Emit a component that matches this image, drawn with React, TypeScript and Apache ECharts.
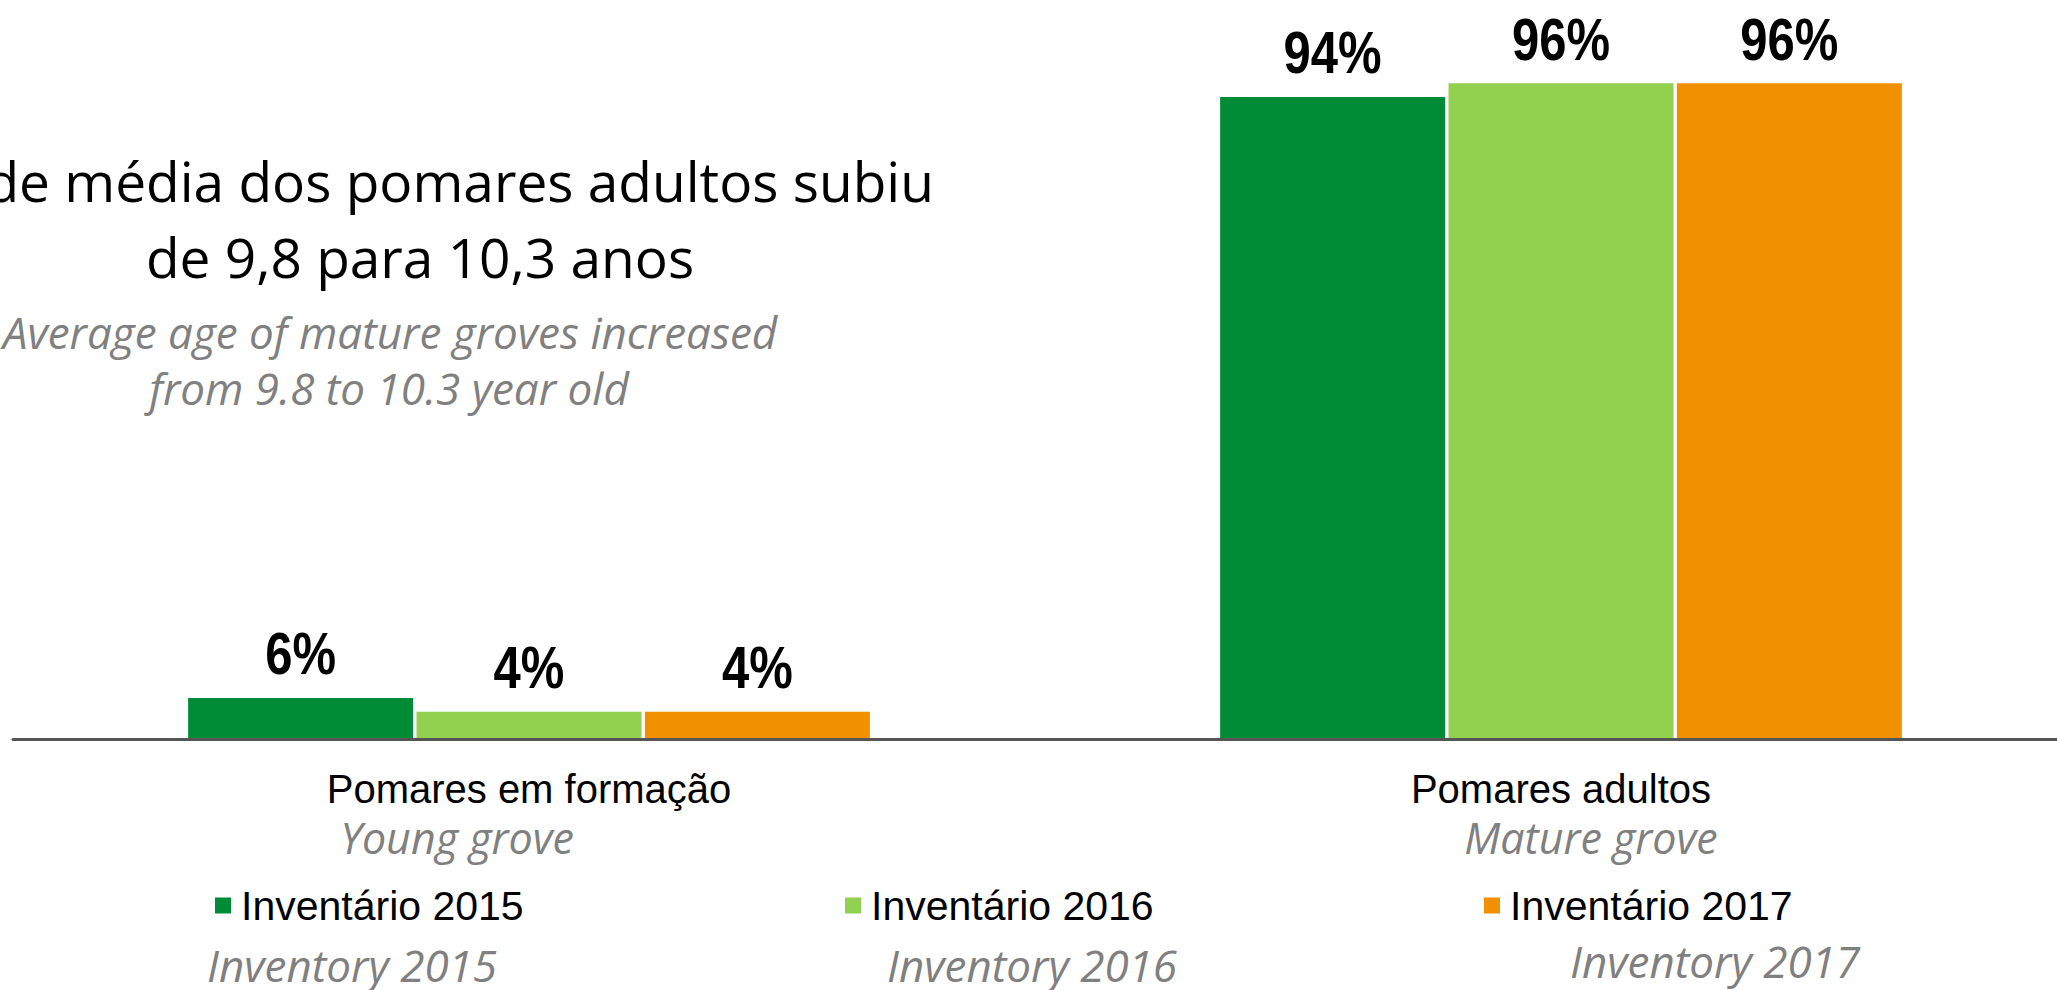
import React, { useEffect, useRef } from 'react';
import * as echarts from 'echarts';

const categories = ['Pomares em formação', 'Pomares adultos'];
const categoriesEn = ['Young grove', 'Mature grove'];
const seriesNames = ['Inventário 2015', 'Inventário 2016', 'Inventário 2017'];
const seriesNamesEn = ['Inventory 2015', 'Inventory 2016', 'Inventory 2017'];
const inv2015 = [6, 94];
const inv2016 = [4, 96];
const inv2017 = [4, 96];
const titleLines = ['de média dos pomares adultos subiu', 'de 9,8 para 10,3 anos'];
const subtitleLines = ['Average age of mature groves increased', 'from 9.8 to 10.3 year old'];

const colors = ['#008C37', '#92D050', '#F29100'];
const NARROW = '"Liberation Sans Narrow", "Arial Narrow", "Liberation Sans", Arial, sans-serif';
const CAL = '"Open Sans", "Noto Sans", sans-serif';

export default function App() {
  const ref = useRef<HTMLDivElement>(null);
  useEffect(() => {
    if (!ref.current) return;
    const chart = echarts.init(ref.current, undefined, { renderer: 'svg' });
    const values = [inv2015, inv2016, inv2017];
    const legendLefts = [210, 840, 1479];
    const enLegendPos = [[207, 965], [887, 965], [1570, 961]];
    const staticGraphics: any[] = [
      { type: 'text', x: 934, y: 180, style: { text: titleLines[0], font: `55px ${CAL}`, fill: '#000', textAlign: 'right', textVerticalAlign: 'middle' } },
      { type: 'text', x: 420, y: 256, style: { text: titleLines[1], font: `55px ${CAL}`, fill: '#000', textAlign: 'center', textVerticalAlign: 'middle' } },
      { type: 'text', x: 390, y: 332, style: { text: subtitleLines[0], font: `italic 44px ${CAL}`, fill: '#808080', textAlign: 'center', textVerticalAlign: 'middle' } },
      { type: 'text', x: 389, y: 388, style: { text: subtitleLines[1], font: `italic 44px ${CAL}`, fill: '#808080', textAlign: 'center', textVerticalAlign: 'middle' } },
      ...seriesNamesEn.map((t, i) => ({
        type: 'text', x: enLegendPos[i][0], y: enLegendPos[i][1],
        style: { text: t, font: `italic 44px ${CAL}`, fill: '#808080', textAlign: 'left', textVerticalAlign: 'middle' },
      })),
    ];
    chart.setOption({
      animation: false,
      backgroundColor: '#ffffff',
      grid: { left: 13, top: 56, height: 683, width: 2064, outerBoundsMode: 'none', containLabel: false },
      xAxis: {
        type: 'category',
        data: categories,
        z: 5,
        axisTick: { show: false },
        axisLine: { lineStyle: { color: '#555555', width: 3 } },
        axisLabel: {
          interval: 0,
          margin: 25,
          formatter: (v: string, i: number) => `{pt|${v}}\n{en${i}|${categoriesEn[i]}}`,
          rich: {
            pt: { fontFamily: NARROW, fontSize: 40, color: '#000', lineHeight: 50, align: 'center' },
            en0: { fontFamily: CAL, fontStyle: 'italic', fontSize: 43, color: '#808080', lineHeight: 46, align: 'center', padding: [0, 144, 0, 0] },
            en1: { fontFamily: CAL, fontStyle: 'italic', fontSize: 43, color: '#808080', lineHeight: 46, align: 'center', padding: [0, 0, 0, 60] },
          },
        },
      },
      yAxis: { type: 'value', min: 0, max: 100, show: false },
      legend: seriesNames.map((n, i) => ({
        data: [n],
        left: legendLefts[i],
        top: 880,
        icon: 'rect',
        itemWidth: 16,
        itemHeight: 16,
        textStyle: { fontFamily: NARROW, fontSize: 41, color: '#000', padding: [0, 0, 0, 5] },
      })),
      series: seriesNames.map((n, i) => ({
        type: 'bar',
        name: n,
        data: values[i],
        barWidth: 225,
        barGap: '1.5%',
        itemStyle: { color: colors[i] },
        label: { show: false },
      })),
      graphic: staticGraphics,
    });

    // Value labels placed from the library's own bar layout (narrow-looking: stretched vertically)
    const labelGraphics: any[] = [];
    try {
      const model: any = (chart as any).getModel();
      seriesNames.forEach((_, i) => {
        const data = model.getSeriesByIndex(i).getData();
        values[i].forEach((v, j) => {
          const l = data.getItemLayout(j);
          if (!l) return;
          const top = Math.min(l.y, l.y + l.height);
          labelGraphics.push({
            type: 'text',
            x: l.x + l.width / 2,
            y: top - 15,
            scaleY: 1.2,
            z: 10,
            style: { text: `${v}%`, font: `bold 49px ${NARROW}`, fill: '#000', textAlign: 'center', textVerticalAlign: 'bottom' },
          });
        });
      });
    } catch (e) {
      // ignore
    }
    chart.setOption({ graphic: [...staticGraphics, ...labelGraphics] }, { replaceMerge: ['graphic'] });
    return () => chart.dispose();
  }, []);
  return <div ref={ref} style={{ position: 'fixed', left: 0, top: 0, width: 2057, height: 990 }} />;
}
